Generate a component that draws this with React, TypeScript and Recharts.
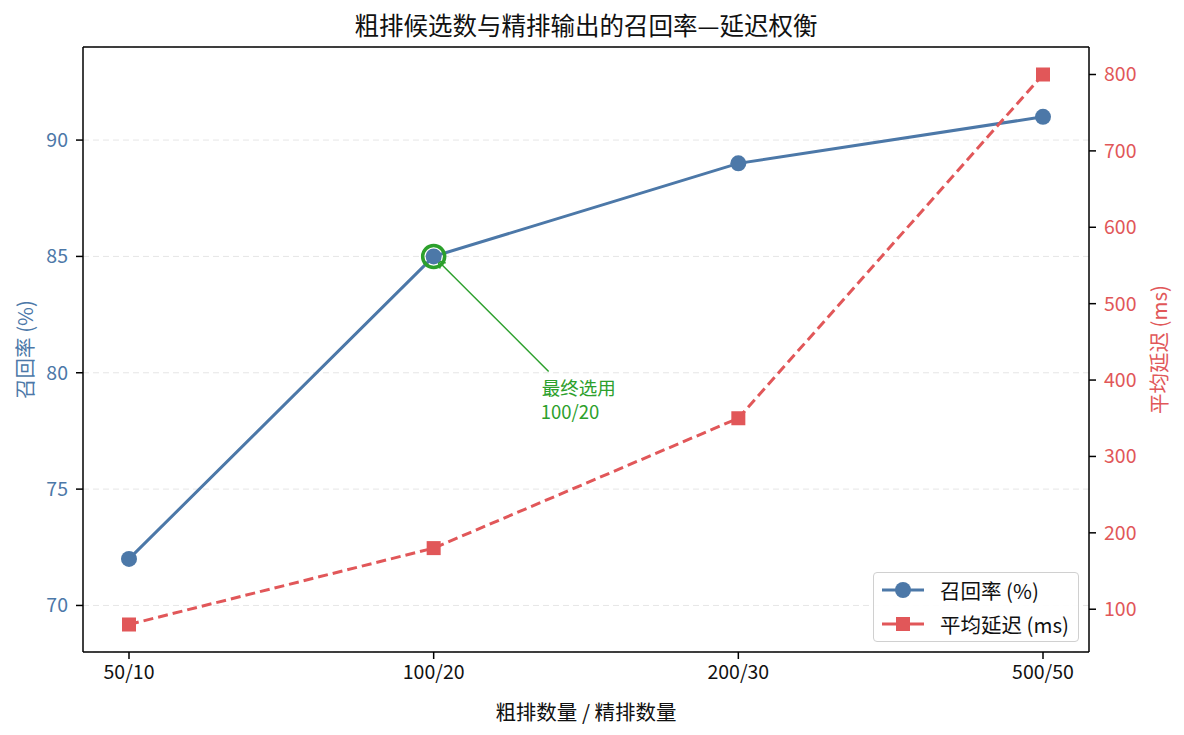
import React from "react";
import {
  CartesianGrid,
  Legend,
  Line,
  LineChart,
  ReferenceDot,
  ReferenceLine,
  XAxis,
  YAxis,
} from "recharts";

const categories = ["50/10", "100/20", "200/30", "500/50"];
const recallPct = [72, 85, 89, 91];
const latencyMs = [80, 180, 350, 800];
const recallTicks = [70, 75, 80, 85, 90];
const latencyTicks = [100, 200, 300, 400, 500, 600, 700, 800];
const recallDomain = [68, 94];
const latencyDomain = [44, 836];
const chosen = { name: "100/20", recall: 85 };

const BLUE = "#4C78A8";
const RED = "#E15759";
const GREEN = "#2CA02C";
const FONT = '"Noto Sans CJK SC", "Noto Sans", sans-serif';

const data = categories.map((name, i) => ({
  name,
  recall: recallPct[i],
  latency: latencyMs[i],
}));

function SquareDot(props: any) {
  const { cx, cy } = props;
  if (cx == null || cy == null) return null;
  return <rect x={cx - 7} y={cy - 7} width={14} height={14} fill={RED} />;
}

// arrow + text of the "final pick" note, placed relative to the marked point
function ChosenLabel(props: any) {
  const vb = props.viewBox || {};
  const cx = vb.cx ?? (vb.x ?? 0) + (vb.width ?? 0) / 2;
  const cy = vb.cy ?? (vb.y ?? 0) + (vb.height ?? 0) / 2;
  return (
    <g>
      <line
        x1={cx + 115}
        y1={cy + 115}
        x2={cx + 4}
        y2={cy + 4}
        stroke={GREEN}
        strokeWidth={1.5}
      />
      <path
        d={`M ${cx + 4} ${cy + 4} l 8 2.5 M ${cx + 4} ${cy + 4} l 2.5 8`}
        stroke={GREEN}
        strokeWidth={1.5}
        fill="none"
      />
      <text x={cx + 108} y={cy + 139} fill={GREEN} fontSize={18.5} fontFamily={FONT}>
        最终选用
      </text>
      <text x={cx + 107} y={cy + 163} fill={GREEN} fontSize={18.5} fontFamily={FONT}>
        100/20
      </text>
    </g>
  );
}

function LegendBox() {
  const rows = [
    { label: "召回率 (%)", color: BLUE, marker: "circle" },
    { label: "平均延迟 (ms)", color: RED, marker: "square" },
  ];
  return (
    <div
      style={{
        boxSizing: "border-box",
        width: 206,
        height: 70,
        border: "1px solid #d0d0d0",
        borderRadius: 4,
        background: "rgba(255,255,255,0.9)",
        padding: "0 0 0 7px",
        fontFamily: FONT,
        fontSize: 20.5,
        color: "#111",
      }}
    >
      {rows.map((r) => (
        <div key={r.label} style={{ display: "flex", alignItems: "center", height: 34, whiteSpace: "nowrap" }}>
          <svg width={44} height={20} style={{ marginRight: 15, flex: "none" }}>
            <line x1={1} y1={10} x2={43} y2={10} stroke={r.color} strokeWidth={3} />
            {r.marker === "circle" ? (
              <circle cx={22} cy={10} r={8} fill={r.color} />
            ) : (
              <rect x={15} y={3} width={14} height={14} fill={r.color} />
            )}
          </svg>
          <span>{r.label}</span>
        </div>
      ))}
    </div>
  );
}

export default function App() {
  return (
    <div style={{ position: "absolute", left: 0, top: 0, width: 1184, height: 735, background: "#fff" }}>
      <div
        style={{
          position: "absolute",
          left: 0,
          top: 7,
          width: 1172,
          textAlign: "center",
          fontFamily: FONT,
          fontSize: 24.5,
          lineHeight: "36px",
          color: "#111",
        }}
      >
        粗排候选数与精排输出的召回率—延迟权衡
      </div>
      <LineChart
        width={1184}
        height={735}
        data={data}
        margin={{ top: 47, right: 0, bottom: 0, left: 0 }}
        style={{ fontFamily: FONT }}
      >
        <CartesianGrid
          yAxisId="left"
          vertical={false}
          horizontal
          stroke="#e6e6e6"
          strokeDasharray="6 4"
        />
        <XAxis
          dataKey="name"
          height={83}
          padding={{ left: 46, right: 46 }}
          axisLine={{ stroke: "#000", strokeWidth: 1.5 }}
          tickLine={{ stroke: "#000", strokeWidth: 1.5 }}
          tickSize={7}
          tick={{ fill: "#111", fontSize: 19.5 }}
          tickMargin={6}
          label={{
            value: "粗排数量 / 精排数量",
            position: "insideBottom",
            offset: 15,
            fill: "#111",
            fontSize: 20.5,
          }}
        />
        <YAxis
          yAxisId="left"
          width={83}
          domain={recallDomain}
          ticks={recallTicks}
          allowDataOverflow
          axisLine={{ stroke: "#000", strokeWidth: 1.5 }}
          tickLine={{ stroke: "#000", strokeWidth: 1.5 }}
          tickSize={7}
          tickMargin={8}
          tick={{ fill: BLUE, fontSize: 19.5 }}
          label={{
            value: "召回率 (%)",
            angle: -90,
            position: "insideLeft",
            offset: 26,
            fill: BLUE,
            fontSize: 20.5,
            style: { textAnchor: "middle" },
          }}
        />
        <YAxis
          yAxisId="right"
          orientation="right"
          width={95}
          domain={latencyDomain}
          ticks={latencyTicks}
          allowDataOverflow
          axisLine={{ stroke: "#000", strokeWidth: 1.5 }}
          tickLine={{ stroke: "#000", strokeWidth: 1.5 }}
          tickSize={7}
          tickMargin={8}
          tick={{ fill: RED, fontSize: 19.5 }}
          label={{
            value: "平均延迟 (ms)",
            angle: -90,
            position: "insideRight",
            offset: 24,
            fill: RED,
            fontSize: 20.5,
            style: { textAnchor: "middle" },
          }}
        />
        <ReferenceLine yAxisId="left" y={recallDomain[1]} stroke="#000" strokeWidth={1.5} />
        <Line
          yAxisId="left"
          dataKey="recall"
          name="召回率 (%)"
          stroke={BLUE}
          strokeWidth={3}
          dot={{ r: 8, fill: BLUE, stroke: BLUE, strokeWidth: 0 }}
          activeDot={false}
          isAnimationActive={false}
        />
        <Line
          yAxisId="right"
          dataKey="latency"
          name="平均延迟 (ms)"
          stroke={RED}
          strokeWidth={3}
          strokeDasharray="10 5"
          dot={<SquareDot />}
          activeDot={false}
          isAnimationActive={false}
        />
        <ReferenceDot
          yAxisId="left"
          x={chosen.name}
          y={chosen.recall}
          r={11}
          fill="none"
          stroke={GREEN}
          strokeWidth={3.5}
          label={<ChosenLabel />}
        />
        <Legend
          layout="horizontal"
          verticalAlign="middle"
          align="center"
          content={() => <LegendBox />}
          wrapperStyle={{ left: 873, top: 572, width: "auto" }}
        />
      </LineChart>
    </div>
  );
}
